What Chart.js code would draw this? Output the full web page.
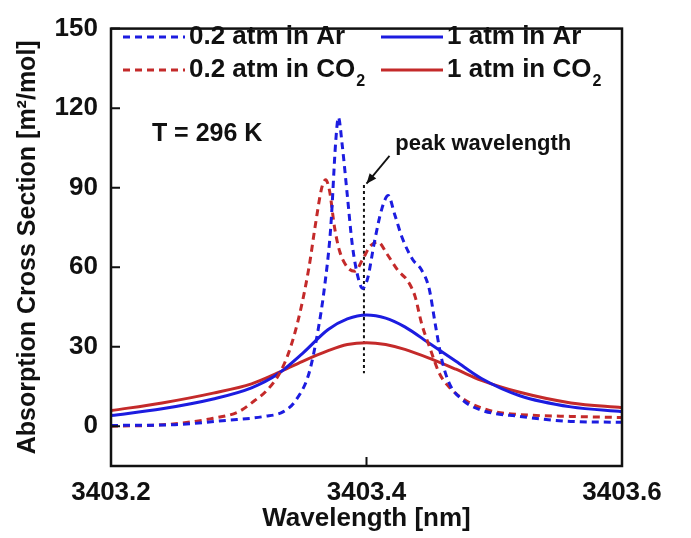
<!DOCTYPE html>
<html>
<head>
<meta charset="utf-8">
<script src="https://cdn.jsdelivr.net/npm/chart.js@4/dist/chart.umd.min.js"></script>
<style>
  html, body { margin: 0; padding: 0; background: #fff; }
  #wrap { width: 691px; height: 538px; }
</style>
</head>
<body>
<div id="wrap"><canvas id="chart" width="691" height="538"></canvas></div>
<script>
// --- DATA ---
const xTicks = [3403.2, 3403.4, 3403.6];
const yTicks = [0, 30, 60, 90, 120, 150];

// 0.2 atm in Ar (blue dashed)
const arLowX = [3403.20, 3403.25, 3403.29, 3403.32, 3403.335, 3403.345, 3403.355, 3403.362, 3403.367, 3403.372,
  3403.376, 3403.378, 3403.381, 3403.385, 3403.389, 3403.394, 3403.397, 3403.401, 3403.406, 3403.412,
  3403.417, 3403.422, 3403.428, 3403.436, 3403.443, 3403.449, 3403.454, 3403.459, 3403.465, 3403.475,
  3403.489, 3403.52, 3403.56, 3403.60];
const arLowY = [0.3, 0.6, 2.2, 3.7, 5.5, 10, 20, 36, 52, 75,
  108, 116.5, 106, 87, 68, 55, 52, 56, 69, 82,
  87, 80, 71, 63, 59, 52, 38, 25, 16, 10,
  6.2, 3.7, 1.8, 1.5];

// 0.2 atm in CO2 (red dashed)
const co2LowX = [3403.20, 3403.245, 3403.28, 3403.30, 3403.312, 3403.322, 3403.332, 3403.34, 3403.348, 3403.355,
  3403.36, 3403.365, 3403.368, 3403.371, 3403.375, 3403.379, 3403.385, 3403.391, 3403.397, 3403.403,
  3403.409, 3403.416, 3403.425, 3403.432, 3403.438, 3403.443, 3403.45, 3403.457, 3403.465, 3403.481,
  3403.50, 3403.52, 3403.56, 3403.60];
const co2LowY = [0, 0.7, 3, 5.5, 9.5, 13.5, 20, 29, 43, 60,
  76, 90, 93, 89, 75, 66, 60, 58.5, 63, 68,
  69.5, 65, 58.5, 55, 49, 39, 29, 20, 14.6, 8.8,
  5.5, 4.4, 3.7, 3.3];

// 1 atm curves share one wavelength grid
const oneAtmX = [3403.20, 3403.24, 3403.28, 3403.31, 3403.33, 3403.35, 3403.37, 3403.385, 3403.40, 3403.415,
  3403.43, 3403.45, 3403.47, 3403.49, 3403.52, 3403.56, 3403.60];
const arOneY = [4.0, 6.6, 10.3, 14.5, 19.5, 27.5, 36.5, 40.5, 42, 40.8,
  37.5, 31, 24.5, 18, 11.5, 7.3, 5.5];
const co2OneY = [5.9, 8.8, 12.5, 16, 20, 24.5, 28.5, 30.8, 31.5, 30.8,
  29, 25.5, 21.5, 17.3, 12.8, 8.8, 7];

// dotted "peak wavelength" marker
const peakX = [3403.398, 3403.398];
const peakY = [91, 20];

const BLUE = "#1c1ce0";
const RED = "#c42a2a";
const FONT = "'Liberation Sans', Arial, sans-serif";

function pts(xs, ys) {
  return xs.map((x, i) => ({ x: x, y: ys[i] }));
}

// legend drawn inside the plot, two columns
const legendSlots = [
  { col: 0, row: 0 }, { col: 0, row: 1 }, { col: 1, row: 0 }, { col: 1, row: 1 }
];
const legendColX = [123, 381];
const legendRowY = [37, 70];

function drawLabel(ctx, text, x, y, size) {
  // draws text; a trailing "₂" is rendered as a lowered small 2
  ctx.font = "bold " + size + "px " + FONT;
  ctx.textBaseline = "middle";
  ctx.textAlign = "left";
  if (text.endsWith("₂")) {
    const base = text.slice(0, -1);
    ctx.fillText(base, x, y);
    const w = ctx.measureText(base).width;
    ctx.font = "bold " + Math.round(size * 0.62) + "px " + FONT;
    ctx.fillText("2", x + w + 1, y + 12);
  } else {
    ctx.fillText(text, x, y);
  }
}

const framePlugin = {
  id: "frame",
  afterDraw(chart) {
    const ctx = chart.ctx;
    const a = chart.chartArea;
    const xs = chart.scales.x, ys = chart.scales.y;
    ctx.save();
    ctx.strokeStyle = "#111";
    ctx.lineWidth = 2.5;
    ctx.strokeRect(a.left, a.top, a.right - a.left, a.bottom - a.top);
    // inward ticks
    ctx.lineWidth = 2;
    ctx.beginPath();
    yTicks.forEach(v => {
      const py = ys.getPixelForValue(v);
      ctx.moveTo(a.left, py);
      ctx.lineTo(a.left + 9, py);
    });
    xTicks.forEach(v => {
      const px = xs.getPixelForValue(v);
      ctx.moveTo(px, a.bottom);
      ctx.lineTo(px, a.bottom - 9);
    });
    ctx.stroke();

    // legend
    ctx.fillStyle = "#111";
    chart.data.datasets.forEach((ds, i) => {
      if (!ds.label) return;
      const slot = legendSlots[i];
      const lx = legendColX[slot.col], ly = legendRowY[slot.row];
      ctx.save();
      ctx.strokeStyle = ds.borderColor;
      ctx.lineWidth = 3;
      ctx.setLineDash(ds.borderDash || []);
      ctx.beginPath();
      ctx.moveTo(lx, ly);
      ctx.lineTo(lx + 62, ly);
      ctx.stroke();
      ctx.restore();
      drawLabel(ctx, ds.label, lx + 66, ly, 26);
    });

    // annotations
    drawLabel(ctx, "T = 296 K", xs.getPixelForValue(3403.232), ys.getPixelForValue(110.3), 25);
    drawLabel(ctx, "peak wavelength", xs.getPixelForValue(3403.4225), ys.getPixelForValue(106.5), 22);

    // arrow to the peak marker
    const tx = xs.getPixelForValue(3403.4), ty = ys.getPixelForValue(91.5);
    const fx = xs.getPixelForValue(3403.418), fy = ys.getPixelForValue(102);
    ctx.strokeStyle = "#111";
    ctx.lineWidth = 1.8;
    ctx.beginPath();
    ctx.moveTo(fx, fy);
    ctx.lineTo(tx, ty);
    ctx.stroke();
    const ang = Math.atan2(ty - fy, tx - fx);
    ctx.beginPath();
    ctx.moveTo(tx, ty);
    ctx.lineTo(tx - 11 * Math.cos(ang - 0.4), ty - 11 * Math.sin(ang - 0.4));
    ctx.lineTo(tx - 11 * Math.cos(ang + 0.4), ty - 11 * Math.sin(ang + 0.4));
    ctx.closePath();
    ctx.fill();
    ctx.restore();
  }
};

const common = { fill: false, pointRadius: 0, borderWidth: 3, cubicInterpolationMode: "monotone" };

new Chart(document.getElementById("chart"), {
  type: "line",
  data: {
    datasets: [
      { ...common, label: "0.2 atm in Ar", data: pts(arLowX, arLowY), borderColor: BLUE, borderDash: [7, 5] },
      { ...common, label: "0.2 atm in CO₂", data: pts(co2LowX, co2LowY), borderColor: RED, borderDash: [7, 5] },
      { ...common, label: "1 atm in Ar", data: pts(oneAtmX, arOneY), borderColor: BLUE },
      { ...common, label: "1 atm in CO₂", data: pts(oneAtmX, co2OneY), borderColor: RED },
      { ...common, label: "", data: pts(peakX, peakY), borderColor: "#111", borderWidth: 2, borderDash: [3, 3] }
    ]
  },
  options: {
    responsive: false,
    animation: false,
    layout: { padding: { top: 17, right: 69, left: 0, bottom: 0 } },
    plugins: { legend: { display: false }, tooltip: { enabled: false } },
    scales: {
      x: {
        type: "linear",
        min: 3403.2,
        max: 3403.6,
        afterFit: s => { s.height = 72; },
        afterBuildTicks: s => { s.ticks = xTicks.map(v => ({ value: v })); },
        grid: { display: false, drawTicks: false },
        border: { display: false },
        ticks: {
          padding: 11,
          color: "#111",
          maxRotation: 0,
          font: { family: FONT, size: 26, weight: "bold" },
          callback: v => v.toFixed(1)
        },
        title: {
          display: true,
          text: "Wavelength [nm]",
          color: "#111",
          padding: { top: 0, bottom: 4 },
          font: { family: FONT, size: 26, weight: "bold" }
        }
      },
      y: {
        type: "linear",
        min: -15,
        max: 150,
        afterFit: s => { s.width = 111; },
        afterBuildTicks: s => { s.ticks = yTicks.map(v => ({ value: v })); },
        grid: { display: false, drawTicks: false },
        border: { display: false },
        ticks: {
          padding: 13,
          color: "#111",
          font: { family: FONT, size: 26, weight: "bold" }
        },
        title: {
          display: true,
          text: "Absorption Cross Section [m²/mol]",
          color: "#111",
          padding: { top: 13, bottom: 0 },
          font: { family: FONT, size: 25, weight: "bold" }
        }
      }
    }
  },
  plugins: [framePlugin]
});
</script>
</body>
</html>
